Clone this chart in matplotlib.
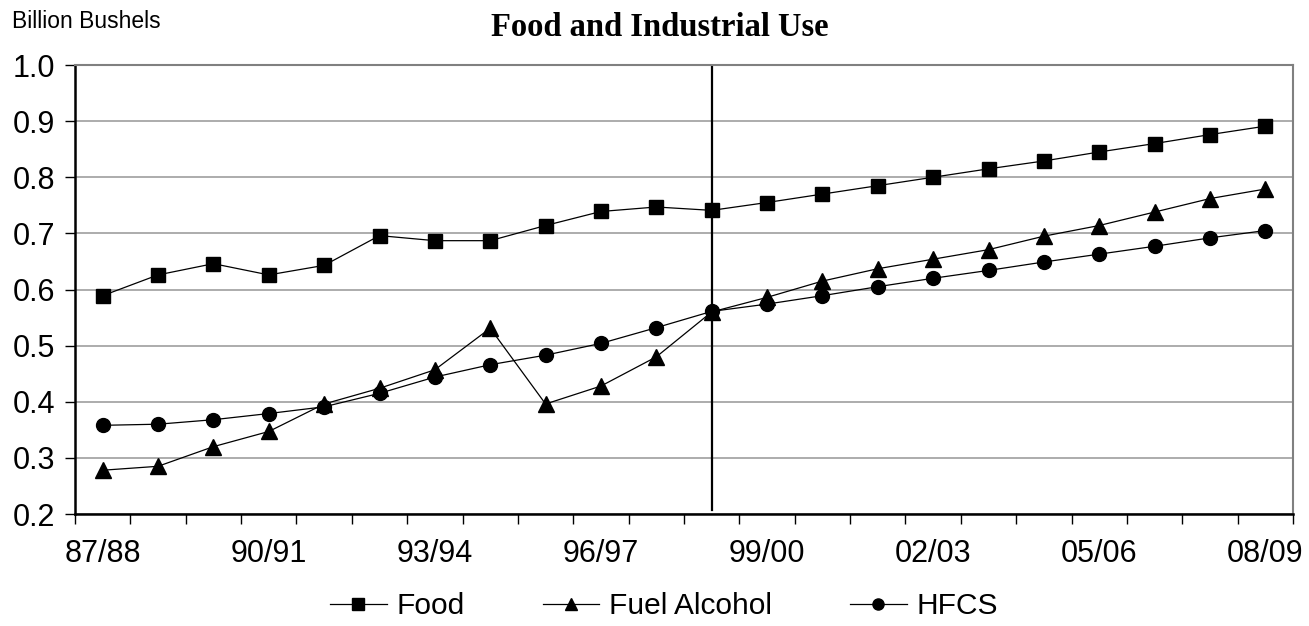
import numpy as np
import matplotlib.pyplot as plt

years = ["87/88", "88/89", "89/90", "90/91", "91/92", "92/93", "93/94", "94/95",
         "95/96", "96/97", "97/98", "98/99", "99/00", "00/01", "01/02", "02/03",
         "03/04", "04/05", "05/06", "06/07", "07/08", "08/09"]
food = [0.589, 0.626, 0.646, 0.626, 0.643, 0.696, 0.687, 0.687, 0.714, 0.739, 0.747,
        0.741, 0.755, 0.770, 0.785, 0.800, 0.815, 0.829, 0.845, 0.860, 0.876, 0.891]
fuel = [0.278, 0.285, 0.320, 0.347, 0.396, 0.424, 0.457, 0.531, 0.396, 0.428, 0.480,
        0.560, 0.586, 0.615, 0.637, 0.654, 0.671, 0.695, 0.714, 0.738, 0.762, 0.779]
hfcs = [0.358, 0.360, 0.368, 0.379, 0.391, 0.415, 0.444, 0.466, 0.483, 0.504, 0.532,
        0.561, 0.574, 0.589, 0.605, 0.620, 0.634, 0.649, 0.663, 0.677, 0.692, 0.705]
split_year = "98/99"

plt.rcParams['font.family'] = ['Liberation Sans', 'DejaVu Sans']

fig = plt.figure(figsize=(13.09, 6.26), dpi=100)
ax = fig.add_axes([75/1309, 1-514/626, (1293-75)/1309, (514-65)/626])

x = np.arange(len(years))
ax.plot(x, food, color='black', lw=0.9, marker='s', ms=10, label='Food')
ax.plot(x, fuel, color='black', lw=0.9, marker='^', ms=11, label='Fuel Alcohol')
ax.plot(x, hfcs, color='black', lw=0.9, marker='o', ms=10, label='HFCS')

xs = years.index(split_year)
ax.axvline(xs, ymin=0.008, ymax=1, color='black', lw=1.6, zorder=1)

ax.set_xlim(-0.5, len(years) - 0.5)
ax.set_ylim(0.2, 1.0)
ax.set_yticks(np.arange(0.2, 1.01, 0.1))
ax.set_yticklabels([f"{v:.1f}" for v in np.arange(0.2, 1.01, 0.1)])
ax.yaxis.grid(True, color='#a6a6a6', lw=1.3)
ax.set_axisbelow(True)

# tick marks between categories, labels on every third category
ax.set_xticks(np.arange(-0.5, len(years)), labels=[])
ax.set_xticks(x[::3], labels=years[::3], minor=True)
ax.tick_params(axis='x', which='major', length=7, width=1, color='black', direction='out')
ax.tick_params(axis='x', which='minor', length=0, pad=18, labelsize=22)
ax.tick_params(axis='y', length=7, width=1, direction='out', labelsize=22, pad=7)

for s in ['left', 'bottom']:
    ax.spines[s].set_linewidth(1.8)
    ax.spines[s].set_color('black')
for s in ['top', 'right']:
    ax.spines[s].set_linewidth(1.5)
    ax.spines[s].set_color('#808080')

fig.text(660/1309, 1-27/626, "Food and Industrial Use", ha='center', va='center',
         family=['Liberation Serif'], weight='bold', fontsize=23.5)
fig.text(12/1309, 1-22/626, "Billion Bushels", ha='left', va='center', fontsize=16.5)

fig.legend(loc='center', bbox_to_anchor=(664/1309, 1-606/626), ncol=3, frameon=False,
           fontsize=21.5, handlelength=1.9, columnspacing=2.6, handletextpad=0.33,
           markerscale=0.8, borderpad=0.2)

fig.savefig("out.png", dpi=100)
